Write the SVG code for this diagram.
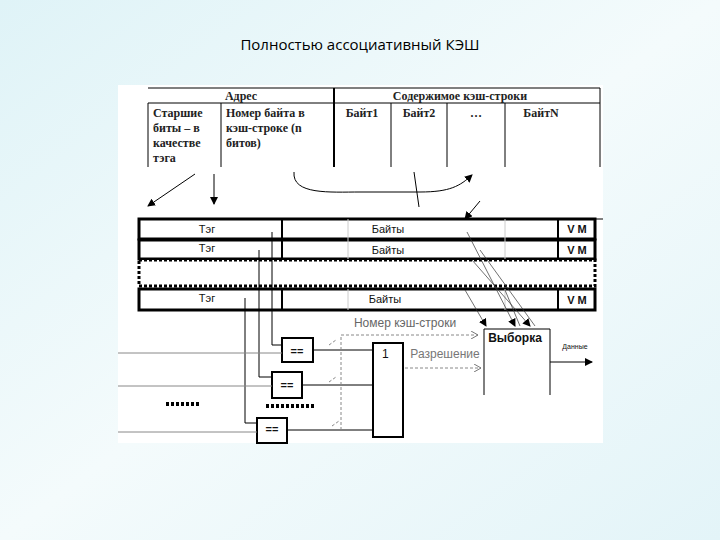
<svg xmlns="http://www.w3.org/2000/svg" width="720" height="540" viewBox="0 0 720 540">
<defs>
<linearGradient id="bg" x1="0" y1="0" x2="1" y2="1"><stop offset="0" stop-color="#dff3f7"/><stop offset="0.5" stop-color="#f4fbfc"/><stop offset="1" stop-color="#e3f4f8"/></linearGradient>
<marker id="ah" markerWidth="8" markerHeight="8" refX="7" refY="4" orient="auto" markerUnits="userSpaceOnUse"><path d="M0,0 L8,4 L0,8 Z" fill="#000"/></marker>
<marker id="oa" markerWidth="8" markerHeight="8" refX="7" refY="4" orient="auto" markerUnits="userSpaceOnUse"><path d="M0,0 L7,4 L0,8" fill="none" stroke="#777" stroke-width="1"/></marker>
</defs>
<style>
.ser{font-family:"Liberation Serif",serif;font-weight:bold;font-size:12px;fill:#222}
.san{font-family:"Liberation Sans",sans-serif;font-size:11px;fill:#111}
.thin{stroke:#000;stroke-width:1;fill:none}
.row{fill:#fff;stroke:#000;stroke-width:3}
.box{fill:#fff;stroke:#000;stroke-width:2}
.dash{stroke:#888;stroke-width:1;stroke-dasharray:3,2;fill:none}
.dots{stroke:#000;stroke-width:4;stroke-dasharray:3,2}
</style>
<rect width="720" height="540" fill="url(#bg)"/>
<text x="360" y="50" text-anchor="middle" font-family="Open Sans, sans-serif" font-size="15" fill="#000">Полностью ассоциативный КЭШ</text>
<rect x="118" y="85" width="485" height="358" fill="#fff"/>
<g id="address-table">
<line class="thin" x1="148" y1="88" x2="600" y2="88"/>
<line class="thin" x1="148" y1="103" x2="600" y2="103"/>
<line x1="334" y1="88" x2="334" y2="167" stroke="#000" stroke-width="2"/>
<line class="thin" x1="148" y1="103" x2="148" y2="167"/>
<line class="thin" x1="221" y1="103" x2="221" y2="167"/>
<line class="thin" x1="391" y1="103" x2="391" y2="167"/>
<line class="thin" x1="447" y1="103" x2="447" y2="167"/>
<line class="thin" x1="505" y1="103" x2="505" y2="167"/>
<line class="thin" x1="600" y1="88" x2="600" y2="167"/>
<text class="ser" x="241" y="100" text-anchor="middle">Адрес</text>
<text class="ser" x="460" y="100" text-anchor="middle">Содержимое кэш-строки</text>
<text class="ser" x="153" y="117">Старшие</text>
<text class="ser" x="153" y="132">биты – в</text>
<text class="ser" x="153" y="147">качестве</text>
<text class="ser" x="153" y="162">тэга</text>
<text class="ser" x="226" y="117">Номер байта в</text>
<text class="ser" x="226" y="132">кэш-строке (n</text>
<text class="ser" x="226" y="147">битов)</text>
<text class="ser" x="362" y="117" text-anchor="middle">Байт1</text>
<text class="ser" x="419" y="117" text-anchor="middle">Байт2</text>
<text class="ser" x="476" y="117" text-anchor="middle">…</text>
<text class="ser" x="541" y="117" text-anchor="middle">БайтN</text>
</g>
<g id="cache-rows">
<rect class="row" x="139" y="219" width="456" height="20"/>
<rect class="row" x="139" y="240" width="456" height="19"/>
<rect x="139" y="260" width="456" height="26" fill="#fff" stroke="#000" stroke-width="3" stroke-dasharray="3,2"/>
<rect class="row" x="139" y="289" width="456" height="21"/>
<g stroke="#000" stroke-width="2">
<line x1="282" y1="219" x2="282" y2="259"/><line x1="282" y1="289" x2="282" y2="310"/>
<line x1="558" y1="219" x2="558" y2="259"/><line x1="558" y1="289" x2="558" y2="310"/>
</g>
<g stroke="#ccc" stroke-width="1">
<line x1="505" y1="219" x2="505" y2="259"/><line x1="505" y1="289" x2="505" y2="310"/>
<line x1="348" y1="219" x2="348" y2="259"/><line x1="348" y1="289" x2="348" y2="310"/>
</g>
<line x1="595" y1="219" x2="603" y2="219" stroke="#000" stroke-width="1"/>
<g class="san" text-anchor="middle">
<text x="207" y="233">Тэг</text><text x="388" y="233">Байты</text><text x="577" y="233" font-weight="bold">V M</text>
<text x="207" y="252">Тэг</text><text x="388" y="254">Байты</text><text x="577" y="254" font-weight="bold">V M</text>
<text x="207" y="302">Тэг</text><text x="385" y="303">Байты</text><text x="577" y="304" font-weight="bold">V M</text>
</g>
</g>
<g id="compare-1"><rect class="box" x="282" y="338" width="31" height="24"/><text class="san" x="297" y="355" text-anchor="middle" font-weight="bold">==</text></g>
<g id="compare-2"><rect class="box" x="272" y="372" width="30" height="26"/><text class="san" x="287" y="389" text-anchor="middle" font-weight="bold">==</text></g>
<g id="compare-3"><rect class="box" x="257" y="418" width="30" height="25"/><text class="san" x="272" y="433" text-anchor="middle" font-weight="bold">==</text></g>
<g id="or-gate"><rect class="box" x="373" y="343" width="30" height="94"/><text class="san" x="382" y="358" style="font-size:12px">1</text></g>
<g id="select"><path d="M484,395 V329 H550 V395" fill="#fff" stroke="#000" stroke-width="1"/><text class="san" x="515" y="342" text-anchor="middle" font-weight="bold" style="font-size:12px">Выборка</text></g>
<g id="labels">
<text class="san" x="405" y="327" text-anchor="middle" style="fill:#666;font-size:12px">Номер кэш-строки</text>
<text class="san" x="445" y="358" text-anchor="middle" style="fill:#777;font-size:12px">Разрешение</text>
<text class="san" x="575" y="349" text-anchor="middle" style="font-size:7px">Данные</text>
</g>
<g id="ellipsis">
<line class="dots" x1="166" y1="404" x2="199" y2="404"/>
<line class="dots" x1="266" y1="406" x2="315" y2="406"/>
</g>
<g id="connectors">
<line class="thin" x1="195" y1="174" x2="148" y2="206" marker-end="url(#ah)"/>
<line class="thin" x1="214" y1="174" x2="214" y2="204" marker-end="url(#ah)"/>
<path class="thin" d="M294,172 C292,195 330,192 360,192 L420,192 C450,192 460,186 472,175" marker-end="url(#ah)"/>
<line class="thin" x1="414" y1="172" x2="419" y2="207"/>
<line class="thin" x1="480" y1="201" x2="465" y2="219" marker-end="url(#ah)"/>
<path class="thin" d="M272,232 V345 H282"/>
<path class="thin" d="M259,250 V377 H272"/>
<path class="thin" d="M245,298 V423 H257"/>
<line x1="118" y1="353" x2="282" y2="353" stroke="#888" stroke-width="1"/>
<line x1="118" y1="386" x2="272" y2="386" stroke="#888" stroke-width="1"/>
<line x1="118" y1="432" x2="257" y2="432" stroke="#888" stroke-width="1"/>
<line class="thin" x1="313" y1="350" x2="373" y2="350"/>
<line class="thin" x1="302" y1="385" x2="373" y2="385"/>
<line class="thin" x1="287" y1="430" x2="373" y2="430"/>
<path class="dash" d="M341,430 V335 H478" marker-end="url(#oa)"/>
<line class="dash" x1="405" y1="368" x2="481" y2="368" marker-end="url(#oa)"/>
<line class="dash" x1="329" y1="345" x2="336" y2="340"/>
<line class="dash" x1="329" y1="382" x2="336" y2="377"/>
<line class="dash" x1="332" y1="426" x2="339" y2="421"/>
<line x1="467" y1="232" x2="515" y2="326" stroke="#333" stroke-width="0.7" marker-end="url(#ah)"/>
<line x1="472" y1="260" x2="530" y2="326" stroke="#333" stroke-width="0.7" marker-end="url(#ah)"/>
<line x1="480" y1="250" x2="535" y2="326" stroke="#333" stroke-width="0.7"/>
<line x1="465" y1="290" x2="486" y2="326" stroke="#333" stroke-width="0.7" marker-end="url(#ah)"/>
<line x1="505" y1="290" x2="520" y2="326" stroke="#333" stroke-width="0.7"/>
<line x1="550" y1="362" x2="592" y2="362" stroke="#000" stroke-width="1" marker-end="url(#ah)"/>
</g>
</svg>
